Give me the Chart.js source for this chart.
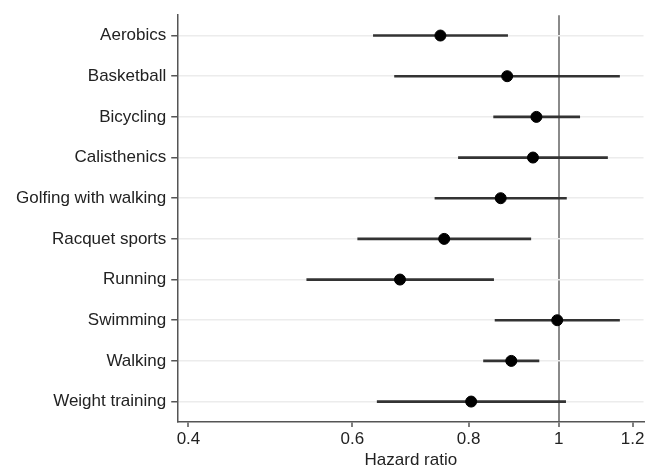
<!DOCTYPE html>
<html>
<head>
<meta charset="utf-8">
<script src="https://cdn.jsdelivr.net/npm/chart.js@4"></script>
<style>
  html, body { margin: 0; padding: 0; background: #fff; }
</style>
</head>
<body>
<canvas id="forest" width="650" height="470"></canvas>
<script>
var activities = ['Aerobics', 'Basketball', 'Bicycling', 'Calisthenics', 'Golfing with walking',
                  'Racquet sports', 'Running', 'Swimming', 'Walking', 'Weight training'];
var hazard = [0.746, 0.880, 0.946, 0.938, 0.866, 0.753, 0.675, 0.996, 0.889, 0.805];
var ciLow  = [0.632, 0.666, 0.851, 0.780, 0.736, 0.608, 0.536, 0.854, 0.830, 0.638];
var ciHigh = [0.881, 1.162, 1.053, 1.128, 1.019, 0.933, 0.851, 1.162, 0.952, 1.017];
var xTicks = [0.4, 0.6, 0.8, 1, 1.2];

var font = { family: '"Liberation Sans", Arial, sans-serif', size: 17 };
Chart.defaults.color = '#222';

var ctx = document.getElementById('forest').getContext('2d');
var chart = new Chart(ctx, {
    type: 'bar',
    data: {
        labels: activities,
        datasets: [{
            data: activities.map(function(a, i) { return [ciLow[i], ciHigh[i]]; }),
            backgroundColor: '#333',
            borderWidth: 0,
            barThickness: 2,
            order: 2
        }, {
            type: 'scatter',
            data: activities.map(function(a, i) { return { x: hazard[i], y: a }; }),
            backgroundColor: '#000',
            borderColor: '#000',
            pointRadius: 5.5,
            order: 1
        }]
    },
    options: {
        indexAxis: 'y',
        responsive: false,
        animation: false,
        layout: { padding: { top: 15, right: 5, left: 11 } },
        plugins: { legend: { display: false }, tooltip: { enabled: false } },
        scales: {
            x: {
                type: 'logarithmic',
                min: 0.39,
                max: 1.233,
                afterBuildTicks: function(axis) {
                    axis.ticks = xTicks.map(function(v) { return { value: v }; });
                },
                ticks: {
                    autoSkip: false,
                    maxRotation: 0,
                    font: font,
                    padding: 2,
                    callback: function(v) { return String(v); }
                },
                grid: {
                    color: function(c) { return c.tick && c.tick.value === 1 ? '#8a8a8a' : 'rgba(0,0,0,0)'; },
                    lineWidth: 2,
                    tickColor: '#555',
                    tickLength: 5,
                    tickWidth: 1.5
                },
                border: { color: '#555', width: 1.5 },
                title: {
                    display: true,
                    text: 'Hazard ratio',
                    font: { family: font.family, size: 17, lineHeight: 1.1 },
                    padding: { top: 0, bottom: 0 }
                }
            },
            y: {
                type: 'category',
                offset: true,
                ticks: { font: font, padding: 5 },
                grid: {
                    offset: false,
                    color: '#ececec',
                    lineWidth: 1.5,
                    tickColor: '#555',
                    tickLength: 7,
                    tickWidth: 1.5
                },
                border: { color: '#555', width: 1.5 }
            }
        }
    }
});
</script>
</body>
</html>
